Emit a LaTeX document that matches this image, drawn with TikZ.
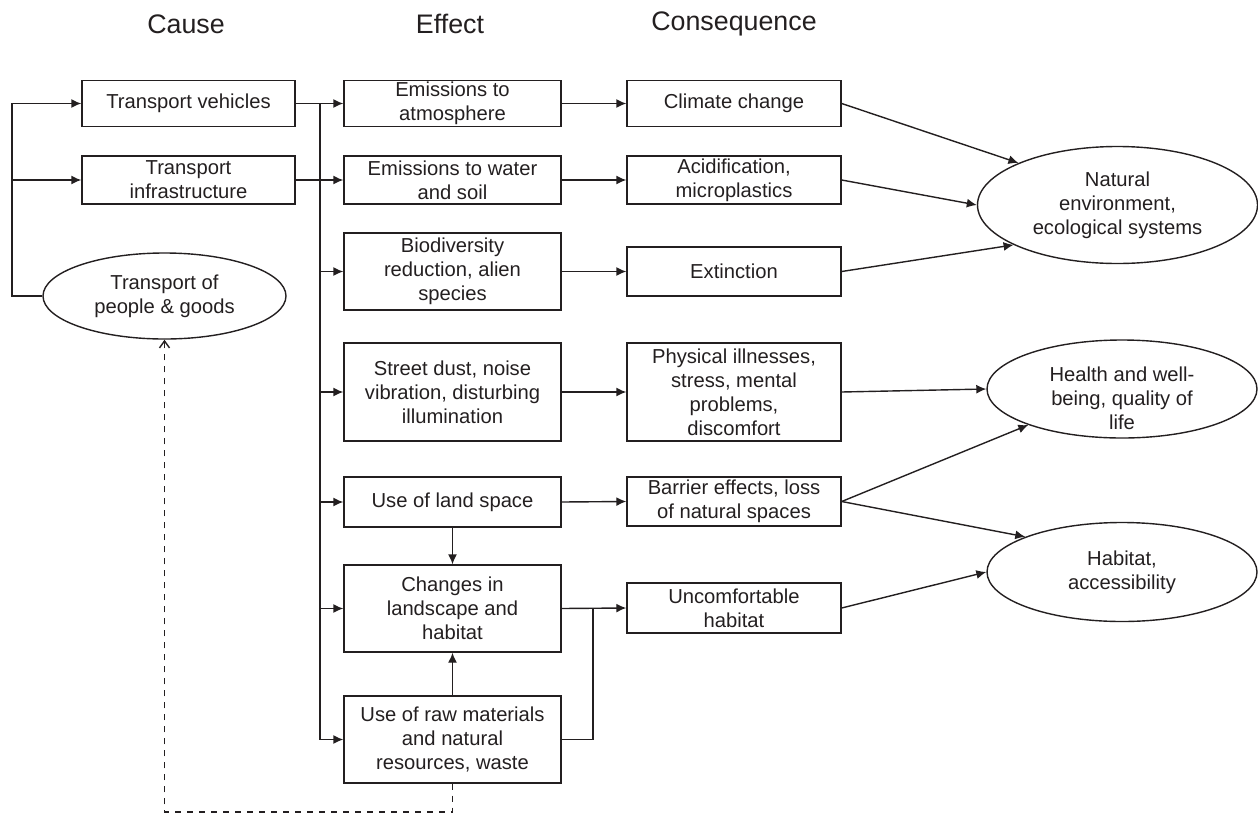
\documentclass[tikz,border=0pt]{standalone}
\usepackage{fontspec}
\setmainfont{Liberation Sans}
\usetikzlibrary{shapes.geometric, arrows.meta}
\definecolor{ink}{RGB}{35, 31, 32}

\begin{document}
\begin{tikzpicture}[x=0.5pt, y=-0.5pt, color=ink,
  box/.style={draw, line width=0.7pt, inner sep=0pt, align=center,
    font=\fontsize{10.1}{12}\selectfont},
  causebox/.style={box, minimum width=106.5pt},
  effectbox/.style={box, minimum width=108.5pt},
  conbox/.style={box, minimum width=107pt},
  oval/.style={box, ellipse},
  head/.style={font=\fontsize{13.4}{16}\selectfont},
  wire/.style={line width=0.7pt},
  link/.style={wire, -{Latex[length=5pt, width=4.5pt]}}]

  \pgfmathsetmacro{\xc}{188.5};
  \pgfmathsetmacro{\xe}{452.5};
  \pgfmathsetmacro{\xq}{734};

  \useasboundingbox (0, 0) rectangle (1258, 814);

  \node[head] (cause) at (186, 24) {Cause};
  \node[head] (effect) at (450, 24) {Effect};
  \node[head] (conseq) at (734, 24) {Consequence};

  % causes
  \node[causebox, minimum height=23pt] (veh) at (\xc, 103.5) {Transport vehicles};
  \node[causebox, minimum height=24pt] (infra) at (\xc, 180) {Transport\\infrastructure};
  \node[oval, minimum width=121.5pt, minimum height=43pt] (people) at (164.5, 296) {Transport of\\people \& goods};

  % effects
  \node[effectbox, minimum height=23pt] (atmo) at (\xe, 103.5) {Emissions to\\atmosphere};
  \node[effectbox, minimum height=24pt] (water) at (\xe, 180) {Emissions to water\\and soil};
  \node[effectbox, minimum height=38.5pt] (bio) at (\xe, 271.5) {Biodiversity\\reduction, alien\\species};
  \node[effectbox, minimum height=49pt] (dust) at (\xe, 392) {Street dust, noise\\vibration, disturbing\\illumination};
  \node[effectbox, minimum height=25pt] (land) at (\xe, 502) {Use of land space};
  \node[effectbox, minimum height=43.5pt] (change) at (\xe, 608.5) {Changes in\\landscape and\\habitat};
  \node[effectbox, minimum height=43.5pt] (raw) at (\xe, 739.5) {Use of raw materials\\and natural\\resources, waste};

  % consequences
  \node[conbox, minimum height=23pt] (climate) at (\xq, 103.5) {Climate change};
  \node[conbox, minimum height=24pt] (acid) at (\xq, 180) {Acidification,\\microplastics};
  \node[conbox, minimum height=24.5pt] (extinct) at (\xq, 271.5) {Extinction};
  \node[conbox, minimum height=49pt] (ill) at (\xq, 392) {Physical illnesses,\\stress, mental\\problems,\\discomfort};
  \node[conbox, minimum height=24.5pt] (barrier) at (\xq, 501.5) {Barrier effects, loss\\of natural spaces};
  \node[conbox, minimum height=25pt] (uncomf) at (\xq, 608) {Uncomfortable\\habitat};

  \node[oval, minimum width=140pt, minimum height=58.5pt] (natural) at (1117.5, 205) {Natural\\environment,\\ecological systems};
  \node[oval, minimum width=135pt, minimum height=49pt] (health) at (1122, 389) {};
  \node[box, draw=none] (healthtext) at (1122, 398) {Health and well-\\being, quality of\\life};
  \node[oval, minimum width=135pt, minimum height=49.5pt] (habitat) at (1122, 572) {Habitat,\\accessibility};

  \coordinate (ltop) at (12, 103.5);
  \coordinate (bus) at (320, 103.5);
  \coordinate (jn) at (593, 608.5);
  \coordinate (dbot) at (164.5, 812);

  \draw[link] (people.west) -| (ltop) -- (veh.west);
  \draw[link] (ltop |- infra.west) -- (infra.west);

  \draw[wire] (veh.east) -- (bus);
  \draw[wire] (infra.east) -- (bus |- infra.east);
  \draw[line width=1pt] (bus) -- (bus |- raw.west);
  \foreach \n in {atmo, water, bio, dust, land, change, raw}
    \draw[link] (bus |- \n.west) -- (\n.west);

  \draw[link] (land.south) -- (change.north);
  \draw[link] (raw.north) -- (change.south);
  \draw[wire] (raw.east) -| (jn);

  \draw[link] (atmo.east) -- (climate.west);
  \draw[link] (water.east) -- (acid.west);
  \draw[link] (bio.east) -- (extinct.west);
  \draw[link] (dust.east) -- (ill.west);
  \draw[link] (land.east) -- (barrier.west);
  \draw[link] (change.east) -- (uncomf.west);

  \draw[link] (climate.east) -- (natural.157);
  \draw[link] (acid.east) -- (natural.west);
  \draw[link] (extinct.east) -- (natural.201);
  \draw[link] (ill.east) -- (health.west);
  \draw[link] (barrier.east) -- (health.201);
  \draw[link] (barrier.east) -- (habitat.160);
  \draw[link] (uncomf.east) -- (habitat.west);

  \draw[wire, dashed, -{Straight Barb[length=3.5pt, width=5pt]}] (raw.south) |- (dbot) -- (people.south);

\end{tikzpicture}
\end{document}
